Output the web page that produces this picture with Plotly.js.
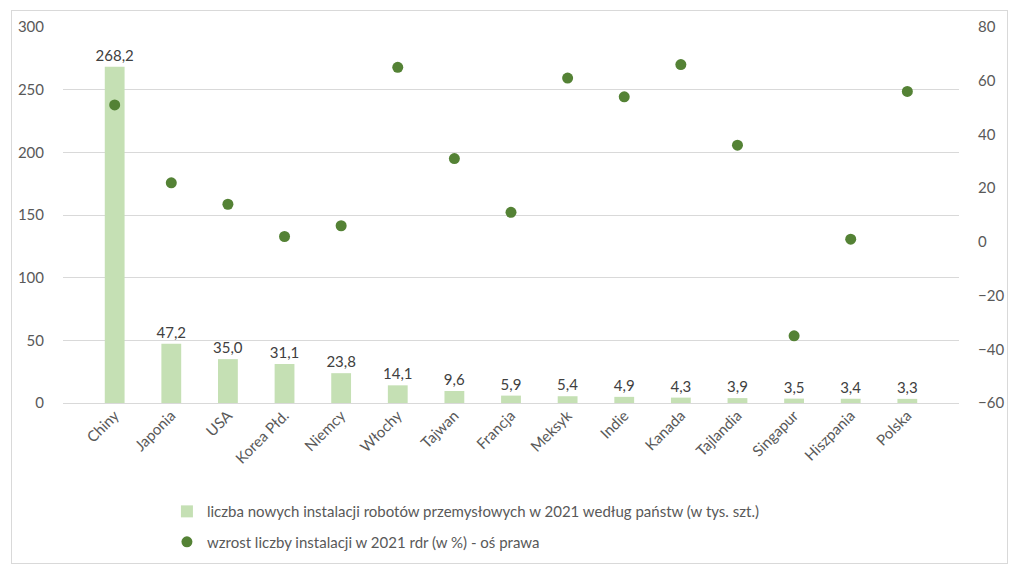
<!DOCTYPE html>
<html>
<head>
<meta charset="utf-8">
<script src="https://cdn.plot.ly/plotly-3.0.1.min.js"></script>
<style>
  body { margin: 0; background: #fff; }
  #frame { position: absolute; left: 11px; top: 10px; width: 995px; height: 552px; border: 1px solid #d9d9d9; }
  #chart { position: absolute; left: 0; top: 0; width: 1024px; height: 576px; }
</style>
</head>
<body>
<div id="frame"></div>
<div id="chart"></div>
<script>
var countries = ['Chiny', 'Japonia', 'USA', 'Korea Płd.', 'Niemcy', 'Włochy', 'Tajwan', 'Francja',
                 'Meksyk', 'Indie', 'Kanada', 'Tajlandia', 'Singapur', 'Hiszpania', 'Polska'];
var installs = [268.2, 47.2, 35.0, 31.1, 23.8, 14.1, 9.6, 5.9, 5.4, 4.9, 4.3, 3.9, 3.5, 3.4, 3.3];
var growth = [51, 22, 14, 2, 6, 65, 31, 11, 61, 54, 66, 36, -35, 1, 56];

var barName = 'liczba nowych instalacji robotów przemysłowych w 2021 według państw (w tys. szt.)';
var dotName = 'wzrost liczby instalacji w 2021 rdr (w %) - oś prawa';

var bars = {
  x: countries,
  y: installs,
  type: 'bar',
  name: barName,
  legendgroup: 'a',
  marker: { color: '#c5e0b4' },
  texttemplate: '%{y:.1f}',
  textposition: 'outside',
  constraintext: 'none',
  cliponaxis: false,
  textfont: { size: 15, color: '#404040' },
  hoverinfo: 'skip'
};

var dots = {
  x: countries,
  y: growth,
  yaxis: 'y2',
  type: 'scatter',
  mode: 'markers',
  name: dotName,
  legendgroup: 'b',
  marker: { color: '#548235', size: 11 },
  cliponaxis: false
};

var layout = {
  width: 1024,
  height: 576,
  paper_bgcolor: 'rgba(0,0,0,0)',
  plot_bgcolor: 'rgba(0,0,0,0)',
  separators: ', ',
  font: { family: 'Lato, "Open Sans", sans-serif', size: 15, color: '#595959' },
  margin: { l: 63, r: 65, t: 27, b: 173 },
  bargap: 0.65,
  showlegend: true,
  legend: {
    x: 0.116, y: -0.245, xanchor: 'left', yanchor: 'top',
    orientation: 'v',
    traceorder: 'grouped',
    tracegroupgap: 8,
    font: { size: 15, color: '#595959' }
  },
  xaxis: {
    tickangle: -45,
    tickfont: { size: 15, color: '#595959' },
    showgrid: false,
    showline: false,
    ticks: ''
  },
  yaxis: {
    range: [0, 300],
    dtick: 50,
    gridcolor: '#d9d9d9',
    zeroline: true,
    zerolinecolor: '#d9d9d9',
    tickfont: { size: 15, color: '#595959' },
    ticklabelstandoff: 18
  },
  yaxis2: {
    overlaying: 'y',
    side: 'right',
    range: [-60, 80],
    dtick: 20,
    showgrid: false,
    zeroline: false,
    tickfont: { size: 15, color: '#595959' },
    ticklabelstandoff: 18
  }
};

Plotly.newPlot('chart', [bars, dots], layout, { displayModeBar: false, staticPlot: true });
</script>
</body>
</html>
